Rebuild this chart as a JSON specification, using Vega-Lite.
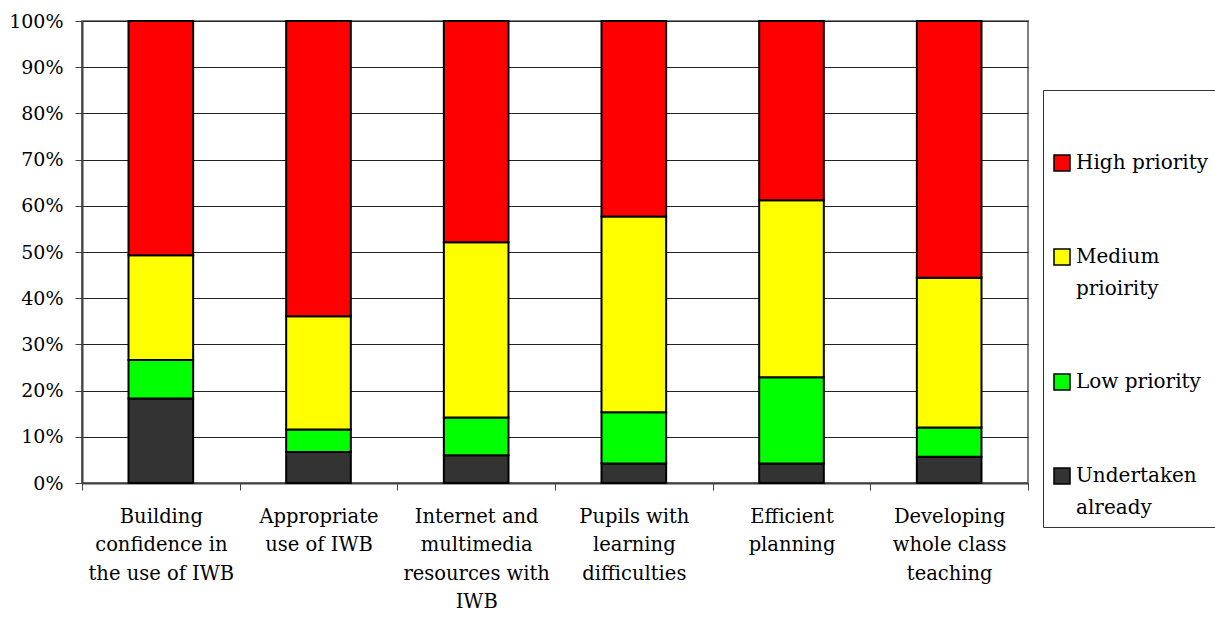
{
  "$schema": "https://vega.github.io/schema/vega-lite/v6.json",
  "width": 946,
  "height": 462,
  "autosize": {"type": "none"},
  "padding": {"left": 82, "top": 21, "right": 187, "bottom": 135},
  "background": "white",
  "config": {
    "view": {"stroke": "#808080", "strokeWidth": 2},
    "font": "DejaVu Serif",
    "style": {"guide-label": {"lineHeight": 32}}
  },
  "data": {
    "values": [
      {"area": "Building confidence in the use of IWB", "level": "Undertaken already", "pct": 18.3},
      {"area": "Building confidence in the use of IWB", "level": "Low priority", "pct": 8.3},
      {"area": "Building confidence in the use of IWB", "level": "Medium prioirity", "pct": 22.7},
      {"area": "Building confidence in the use of IWB", "level": "High priority", "pct": 50.7},
      {"area": "Appropriate use of IWB", "level": "Undertaken already", "pct": 6.7},
      {"area": "Appropriate use of IWB", "level": "Low priority", "pct": 4.9},
      {"area": "Appropriate use of IWB", "level": "Medium prioirity", "pct": 24.5},
      {"area": "Appropriate use of IWB", "level": "High priority", "pct": 63.9},
      {"area": "Internet and multimedia resources with IWB", "level": "Undertaken already", "pct": 6.0},
      {"area": "Internet and multimedia resources with IWB", "level": "Low priority", "pct": 8.2},
      {"area": "Internet and multimedia resources with IWB", "level": "Medium prioirity", "pct": 37.9},
      {"area": "Internet and multimedia resources with IWB", "level": "High priority", "pct": 47.9},
      {"area": "Pupils with learning difficulties", "level": "Undertaken already", "pct": 4.2},
      {"area": "Pupils with learning difficulties", "level": "Low priority", "pct": 11.1},
      {"area": "Pupils with learning difficulties", "level": "Medium prioirity", "pct": 42.4},
      {"area": "Pupils with learning difficulties", "level": "High priority", "pct": 42.3},
      {"area": "Efficient planning", "level": "Undertaken already", "pct": 4.2},
      {"area": "Efficient planning", "level": "Low priority", "pct": 18.7},
      {"area": "Efficient planning", "level": "Medium prioirity", "pct": 38.3},
      {"area": "Efficient planning", "level": "High priority", "pct": 38.8},
      {"area": "Developing whole class teaching", "level": "Undertaken already", "pct": 5.7},
      {"area": "Developing whole class teaching", "level": "Low priority", "pct": 6.3},
      {"area": "Developing whole class teaching", "level": "Medium prioirity", "pct": 32.4},
      {"area": "Developing whole class teaching", "level": "High priority", "pct": 55.6}
    ]
  },
  "transform": [
    {"calculate": "indexof(['Undertaken already', 'Low priority', 'Medium prioirity', 'High priority'], datum.level)", "as": "stack_order"}
  ],
  "mark": {"type": "bar", "width": {"band": 0.41}, "stroke": "black", "strokeWidth": 2},
  "encoding": {
    "x": {
      "field": "area",
      "type": "nominal",
      "sort": [
        "Building confidence in the use of IWB",
        "Appropriate use of IWB",
        "Internet and multimedia resources with IWB",
        "Pupils with learning difficulties",
        "Efficient planning",
        "Developing whole class teaching"
      ],
      "scale": {"paddingInner": 0, "paddingOuter": 0},
      "axis": {
        "title": null,
        "labelAngle": 0,
        "labelExpr": "{'Building confidence in the use of IWB': ['Building', 'confidence in', 'the use of IWB'], 'Appropriate use of IWB': ['Appropriate', 'use of IWB'], 'Internet and multimedia resources with IWB': ['Internet and', 'multimedia', 'resources with', 'IWB'], 'Pupils with learning difficulties': ['Pupils with', 'learning', 'difficulties'], 'Efficient planning': ['Efficient', 'planning'], 'Developing whole class teaching': ['Developing', 'whole class', 'teaching']}[datum.label]",
        "labelFont": "DejaVu Serif",
        "labelFontSize": 19.5,
        "labelLineHeight": 28.6,
        "labelColor": "black",
        "labelPadding": 17,
        "labelBaseline": "top",
        "tickBand": "extent",
        "tickSize": 7,
        "tickColor": "#404040",
        "domainColor": "#404040",
        "domainWidth": 2,
        "grid": false
      }
    },
    "y": {
      "field": "pct",
      "type": "quantitative",
      "stack": "zero",
      "scale": {"domain": [0, 100], "nice": false},
      "axis": {
        "title": null,
        "values": [0, 10, 20, 30, 40, 50, 60, 70, 80, 90, 100],
        "labelExpr": "datum.value + '%'",
        "labelFont": "DejaVu Serif",
        "labelFontSize": 19,
        "labelColor": "black",
        "labelPadding": 12,
        "tickSize": 7,
        "tickColor": "#404040",
        "domainColor": "#404040",
        "domainWidth": 2,
        "grid": true,
        "gridColor": "#222222",
        "gridWidth": 1.2
      }
    },
    "order": {"field": "stack_order", "type": "quantitative", "sort": "ascending"},
    "color": {
      "field": "level",
      "type": "nominal",
      "scale": {
        "domain": ["Undertaken already", "Low priority", "Medium prioirity", "High priority"],
        "range": ["#333333", "#00FF00", "#FFFF00", "#FF0000"]
      },
      "legend": {
        "title": " ",
        "titleFontSize": 20,
        "titlePadding": 34,
        "orient": "none",
        "legendX": 961,
        "legendY": 69,
        "values": ["High priority", "Medium prioirity", "Low priority", "Undertaken already"],
        "strokeColor": "#333333",
        "fillColor": "white",
        "padding": 9,
        "rowPadding": 72,
        "symbolType": "square",
        "symbolSize": 256,
        "symbolStrokeColor": "black",
        "symbolStrokeWidth": 1.5,
        "symbolOpacity": 1,
        "labelExpr": "datum.label == 'Medium prioirity' ? ['Medium', 'prioirity'] : datum.label == 'Undertaken already' ? ['Undertaken', 'already'] : datum.label",
        "labelFont": "DejaVu Serif",
        "labelFontSize": 20,
        "labelColor": "black",
        "labelOffset": 4,
        "labelLimit": 300
      }
    }
  }
}
